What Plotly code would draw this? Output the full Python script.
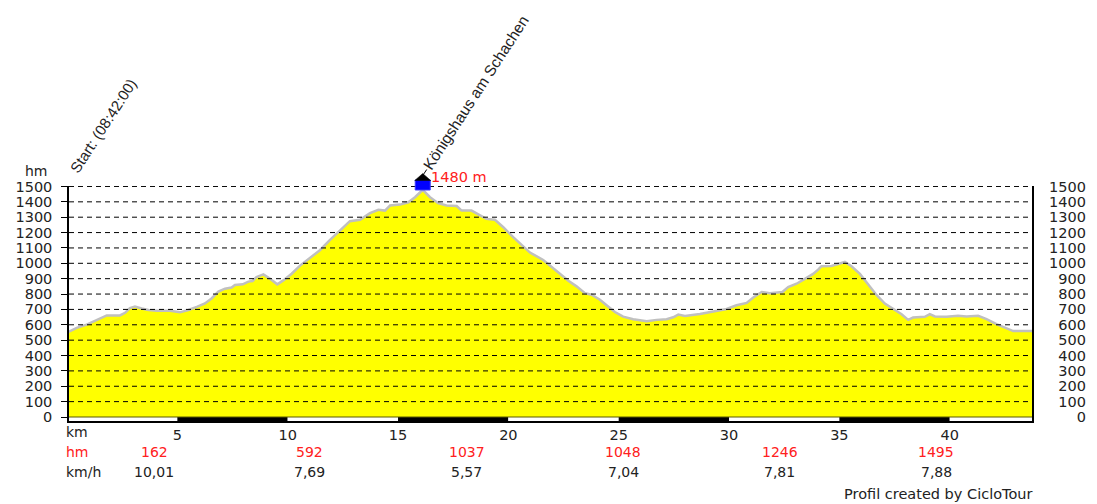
import plotly.graph_objects as go

km = [0.0, 0.44, 0.89, 1.34, 1.80, 2.40, 2.63, 2.85, 3.08, 3.38, 3.69, 4.06, 4.37, 4.67, 5.12, 5.50,
      5.88, 6.25, 6.55, 6.86, 7.16, 7.46, 7.61, 7.96, 8.22, 8.41, 8.59, 8.90, 9.17, 9.53, 9.80,
      10.18, 10.56, 11.01, 11.46, 11.92, 12.37, 12.82, 13.28, 13.73, 14.11, 14.41, 14.64, 15.09,
      15.47, 15.77, 16.12, 16.45, 16.82, 17.2, 17.66, 17.88, 18.33, 18.71, 19.0, 19.39, 19.77,
      20.22, 20.68, 20.98, 21.58, 21.89, 22.34, 22.72, 23.09, 23.47, 23.77, 24.15, 24.45, 24.83,
      25.2, 25.66, 26.27, 26.72, 27.17, 27.47, 27.7, 28.0, 28.68, 29.44, 29.89, 30.34, 30.8, 31.1,
      31.48, 31.85, 32.42, 32.68, 33.06, 33.44, 33.81, 34.04, 34.19, 34.64, 34.95, 35.25, 35.55,
      35.93, 36.31, 36.68, 37.06, 37.44, 37.82, 38.12, 38.34, 38.87, 39.1, 39.33, 39.85, 40.38,
      40.76, 41.29, 41.67, 42.12, 42.5, 42.88, 43.73]
elevation = [550, 580, 601, 631, 661, 661, 678, 709, 719, 706, 696, 691, 691, 691, 681, 696,
             717, 739, 771, 816, 835, 842, 859, 863, 881, 885, 911, 928, 902, 863, 889,
             932, 985, 1035, 1085, 1153, 1214, 1274, 1283, 1326, 1348, 1343, 1376, 1382,
             1397, 1430, 1478, 1430, 1391, 1376, 1373, 1343, 1343, 1311, 1289, 1283, 1235,
             1170, 1106, 1070, 1022, 986, 936, 886, 850, 806, 796, 763, 727, 683,
             653, 636, 623, 632, 636, 649, 666, 657, 670, 688, 703, 727, 742, 778,
             813, 806, 813, 845, 867, 899, 931, 959, 981, 983, 996, 1009, 981,
             931, 862, 794, 738, 701, 669, 632, 647, 652, 669, 654, 652, 658,
             654, 658, 637, 604, 579, 559, 559]

y_ticks = list(range(0, 1501, 100))
x_ticks = [5, 10, 15, 20, 25, 30, 35, 40]

strip_mid = [2.5, 7.5, 12.5, 17.5, 22.5, 27.5, 32.5, 37.5, 41.87]
strip_width = [5, 5, 5, 5, 5, 5, 5, 5, 3.73]
strip_color = ["white", "black", "white", "black", "white", "black", "white", "black", "white"]

segment_km = [3.96, 11.0, 18.12, 25.2, 32.3, 39.4]
segment_hm = ["162", "592", "1037", "1048", "1246", "1495"]
segment_kmh = ["10,01", "7,69", "5,57", "7,04", "7,81", "7,88"]

summit_km = 16.12
FONT = "DejaVu Sans"
TEXT = "#222222"
X_MIN = 0.09
X_MAX = 43.73
Y_MIN = -26
Y_MAX = 1503

# The page body adds 8 px around the figure.
PAGE_OFFSET = 8
FIG_W, FIG_H = 1097 - PAGE_OFFSET, 504 - PAGE_OFFSET
PLOT_LEFT, PLOT_RIGHT, PAPER_RIGHT = 69, 1032, 1086
PLOT_TOP, PLOT_BOTTOM = 185.5, 421


def py(pixel):
    return (PLOT_BOTTOM - pixel) / (PLOT_BOTTOM - PLOT_TOP)


def px(pixel):
    return (pixel - PLOT_LEFT) / (PAPER_RIGHT - PLOT_LEFT)


fig = go.Figure()
fig.add_trace(go.Scatter(x=km, y=elevation, mode="lines", fill="tozeroy", fillcolor="#ffff00",
                         line=dict(color="#c0c0c0", width=2.5), hoverinfo="skip"))
fig.add_trace(go.Bar(x=strip_mid, y=[-Y_MIN] * len(strip_mid), base=Y_MIN, width=strip_width,
                     marker=dict(color=strip_color, line=dict(width=0)), hoverinfo="skip"))
fig.add_trace(go.Scatter(x=[X_MIN, X_MAX], y=[0, 0], mode="lines",
                         line=dict(color="#5a5a00", width=1.2), hoverinfo="skip"))
fig.add_trace(go.Scatter(x=[1], y=[0], yaxis="y2", mode="markers", marker=dict(opacity=0),
                         hoverinfo="skip"))

shapes = [dict(type="line", xref="x", yref="y", x0=X_MIN, x1=X_MAX, y0=v, y1=v, layer="above",
               line=dict(color="black", width=1, dash="5px,4px")) for v in y_ticks[1:]]
# Summit flag: blue box, black roof and a short pole, all above the plot top.
shapes.append(dict(type="rect", xref="x", yref="paper", xsizemode="pixel", xanchor=summit_km,
                   x0=-7.5, x1=7.5, y0=py(189.5), y1=py(179.5), layer="above",
                   fillcolor="#0000ff", line=dict(color="#3a3aff", width=1)))
shapes.append(dict(type="path", xref="x", yref="paper", xsizemode="pixel", ysizemode="pixel",
                   xanchor=summit_km, yanchor=py(180), path="M -8 0 L 0 7 L 8 0 Z", layer="above",
                   fillcolor="black", line=dict(color="black", width=0.5)))
shapes.append(dict(type="line", xref="x", yref="paper", xsizemode="pixel", ysizemode="pixel",
                   xanchor=summit_km, yanchor=py(180), x0=0, x1=4, y0=5, y1=11, layer="above",
                   line=dict(color="black", width=1)))
fig.update_layout(shapes=shapes)


def note(text, x, y, color=TEXT, xref="x", anchor="center", size=14, angle=0, family=FONT):
    fig.add_annotation(text=text, x=x, y=y, xref=xref, yref="paper", showarrow=False,
                       xanchor=anchor, yanchor="middle", textangle=angle, borderpad=0,
                       font=dict(family=family, size=size, color=color))


for k, h, v in zip(segment_km, segment_hm, segment_kmh):
    note(h, k, py(452), color="#ff2020")
    note(v, k, py(472))

note("km", px(65), py(432), xref="paper", anchor="left")
note("hm", px(65), py(452), xref="paper", color="#ff2020", anchor="left")
note("km/h", px(65), py(472), xref="paper", anchor="left")
note("hm", px(36), py(170), xref="paper")
note("Profil created by CicloTour", px(1033), py(494.5), xref="paper", anchor="right", size=14.5)
note("1480 m", 16.45, py(176.5), color="#ff2020", anchor="left", size=14.5)
note("Start: (08:42:00)", 1.65, py(125), angle=-57, size=15, family="Liberation Sans")
note("Königshaus am Schachen", 18.53, py(92), angle=-57, size=15.5, family="Liberation Sans")

tickfont = dict(family=FONT, size=14.5, color=TEXT)
fig.update_layout(
    width=FIG_W, height=FIG_H, showlegend=False, barmode="overlay",
    paper_bgcolor="white", plot_bgcolor="white",
    margin=dict(l=PLOT_LEFT - PAGE_OFFSET, r=1097 - PAPER_RIGHT, t=PLOT_TOP - PAGE_OFFSET,
                b=504 - PLOT_BOTTOM, autoexpand=False),
    font=dict(family=FONT, size=14, color=TEXT),
    xaxis=dict(domain=[0, px(PLOT_RIGHT)], range=[X_MIN, X_MAX], tickvals=x_ticks, ticks="", showgrid=False,
               zeroline=False, showline=True, linecolor="black", linewidth=1.5, tickfont=tickfont),
    yaxis=dict(range=[Y_MIN, Y_MAX], tickvals=y_ticks, ticks="outside", ticklen=6, tickcolor="black",
               showgrid=False, zeroline=False, showline=True, mirror=True, linecolor="black",
               linewidth=1.5, ticklabelstandoff=6, tickfont=tickfont),
    yaxis2=dict(range=[Y_MIN, Y_MAX], tickvals=y_ticks, overlaying="y", side="left", anchor="free",
                position=1, ticks="", showgrid=False, zeroline=False, showline=False, tickfont=tickfont),
)

fig.write_html("out.html")
